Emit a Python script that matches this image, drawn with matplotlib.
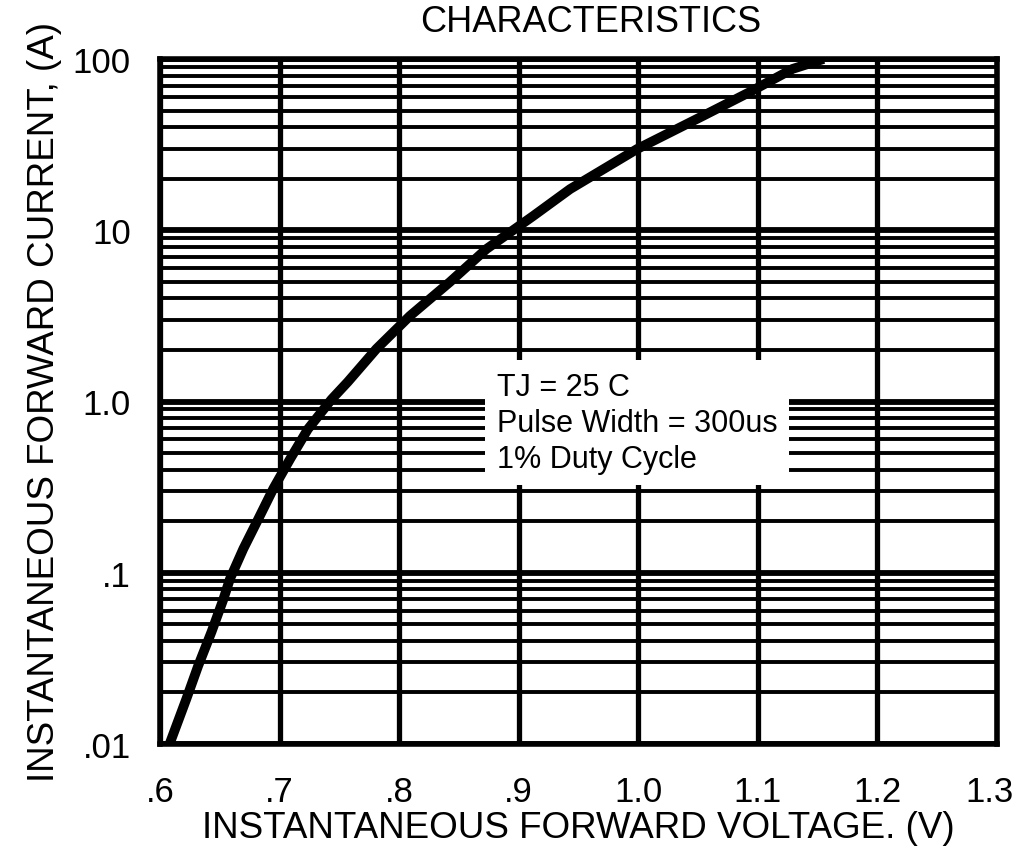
import numpy as np
import matplotlib
matplotlib.use("Agg")
import matplotlib.pyplot as plt
import matplotlib.transforms as mtransforms
from matplotlib.ticker import LogLocator, NullFormatter, FixedLocator

plt.rcParams['font.family'] = ['Liberation Sans', 'DejaVu Sans']

# forward voltage (V) vs instantaneous forward current (A)
volts = [0.608, 0.622, 0.632, 0.643, 0.653, 0.6585, 0.6697, 0.6822, 0.6948, 0.7087, 0.7237, 0.7435,
         0.757, 0.781, 0.809, 0.8425, 0.873, 0.912, 0.943, 0.999, 1.054, 1.093, 1.129, 1.155]
amps = [0.01, 0.0183, 0.0287, 0.045, 0.070, 0.092, 0.138, 0.206, 0.31, 0.46, 0.69, 1.03,
        1.30, 2.03, 3.16, 4.99, 7.77, 12.1, 17.4, 29.8, 46.5, 64.0, 87.5, 100.0]

xticks = [0.6, 0.7, 0.8, 0.9, 1.0, 1.1, 1.2, 1.3]
xlabels = ['.6', '.7', '.8', '.9', '1.0', '1.1', '1.2', '1.3']
yticks = [0.01, 0.1, 1.0, 10, 100]
ylabels = ['.01', '.1', '1.0', '10', '100']

note = "TJ = 25 C\nPulse Width = 300us\n1% Duty Cycle"

W, H = 1019, 862
fig = plt.figure(figsize=(W / 100, H / 100), dpi=100)
ax = fig.add_axes([160 / W, (H - 745) / H, 837 / W, 685 / H])

ax.set_yscale('log')
ax.set_xlim(0.6, 1.3)
ax.set_ylim(0.01, 100)

ax.xaxis.set_major_locator(FixedLocator(xticks))
ax.set_xticklabels(xlabels)
ax.yaxis.set_major_locator(FixedLocator(yticks))
ax.set_yticklabels(ylabels)
ax.yaxis.set_minor_locator(LogLocator(base=10, subs=np.arange(2, 10), numticks=20))
ax.yaxis.set_minor_formatter(NullFormatter())

ax.tick_params(axis='both', which='both', length=0)
ax.tick_params(axis='x', pad=22, labelsize=25)
ax.tick_params(axis='y', pad=21, labelsize=25)

# last label sits right at the edge of the page
last = ax.get_xticklabels()[-1]
last.set_transform(last.get_transform() + mtransforms.ScaledTranslation(-0.07, 0, fig.dpi_scale_trans))

ax.grid(True, which='major', axis='y', color='black', linewidth=4.2, zorder=1)
ax.grid(True, which='minor', axis='y', color='black', linewidth=2.8, zorder=1)
ax.grid(True, which='major', axis='x', color='black', linewidth=3.8, zorder=1)
ax.set_axisbelow(True)
for s in ax.spines.values():
    s.set_linewidth(4)

ax.plot(volts, amps, color='black', linewidth=7, solid_capstyle='butt',
        solid_joinstyle='round', zorder=3)

ax.text(0.4026, 0.543, note, transform=ax.transAxes, fontsize=22, va='top', ha='left',
        linespacing=1.25, zorder=4,
        bbox=dict(boxstyle='square,pad=0.38', facecolor='white', edgecolor='none'))

fig.text(591 / W, 1 - 32 / H, 'CHARACTERISTICS', fontsize=26, ha='center', va='baseline')
ax.set_xlabel('INSTANTANEOUS FORWARD VOLTAGE. (V)', fontsize=26.5, labelpad=2)
ax.set_ylabel('INSTANTANEOUS FORWARD CURRENT, (A)', fontsize=26.5, labelpad=8)

fig.savefig('out.png', dpi=100)
